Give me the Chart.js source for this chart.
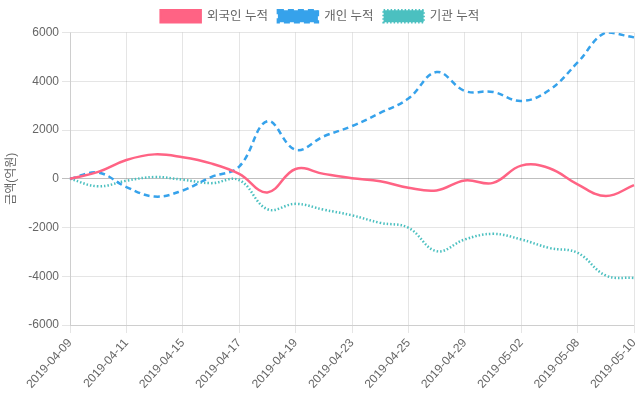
<!DOCTYPE html>
<html><head><meta charset="utf-8">
<script src="https://cdn.jsdelivr.net/npm/chart.js@4"></script>
<style>html,body{margin:0;padding:0;background:#fff}#wrap{width:640px;height:400px}</style>
</head><body><div id="wrap"><canvas id="c"></canvas></div>
<script>
const labels = ["2019-04-09","2019-04-10","2019-04-11","2019-04-12","2019-04-15","2019-04-16","2019-04-17","2019-04-18","2019-04-19","2019-04-22","2019-04-23","2019-04-24","2019-04-25","2019-04-26","2019-04-29","2019-04-30","2019-05-02","2019-05-03","2019-05-08","2019-05-09","2019-05-10"];
const foreign = [0,280,770,1000,880,630,200,-560,400,200,20,-100,-370,-480,-70,-170,540,430,-230,-710,-260];
const individual = [0,250,-340,-730,-480,70,500,2360,1190,1740,2160,2700,3290,4380,3600,3560,3190,3640,4770,6000,5800];
const institution = [0,-310,-80,70,-40,-180,-55,-1250,-1030,-1270,-1500,-1810,-2010,-2970,-2490,-2260,-2490,-2840,-3040,-3970,-4070];
const seriesNames = ["외국인 누적","개인 누적","기관 누적"];
const yTicksMin = -6000, yTicksMax = 6000, yStep = 2000;

Chart.defaults.font.family = "'Liberation Sans', 'Noto Sans CJK KR', sans-serif";
Chart.defaults.color = '#666';
const gridColor = (ctx) => (ctx.tick && ctx.tick.value === 0) ? 'rgba(0,0,0,0.25)' : 'rgba(0,0,0,0.1)';
new Chart(document.getElementById('c'), {
  type: 'line',
  data: {
    labels: labels,
    datasets: [
      {label: seriesNames[0], data: foreign, borderColor: 'rgb(255,99,132)', backgroundColor: 'rgb(255,99,132)', borderWidth: 2.5, fill: false, pointRadius: 0, tension: 0.4},
      {label: seriesNames[1], data: individual, borderColor: 'rgb(54,162,235)', backgroundColor: 'rgb(54,162,235)', borderWidth: 2.5, borderDash: [6,4], fill: false, pointRadius: 0, tension: 0.4},
      {label: seriesNames[2], data: institution, borderColor: 'rgb(75,192,192)', backgroundColor: 'rgb(75,192,192)', borderWidth: 2.5, borderDash: [1.5,2], fill: false, pointRadius: 0, tension: 0.4}
    ]
  },
  options: {
    responsive: true, maintainAspectRatio: false, animation: false,
    plugins: { legend: { position: 'top', labels: { boxHeight: 12, font: { size: 12.5 } } }, tooltip: {enabled: false} },
    scales: {
      x: {
        grid: { color: 'rgba(0,0,0,0.1)' },
        ticks: { maxRotation: 48, minRotation: 48, autoSkip: false,
          callback: function(v, i) { return i % 2 === 0 ? labels[i] : null; } },
        afterFit: (s) => { s.paddingRight = 6; s.height = 75; }
      },
      y: { min: yTicksMin, max: yTicksMax,
        grid: { color: gridColor },
        ticks: { stepSize: yStep, callback: (v) => String(v) },
        title: { display: true, text: '금액(억원)' },
        afterFit: (s) => { s.width = 70; } }
    }
  }
});
</script></body></html>
